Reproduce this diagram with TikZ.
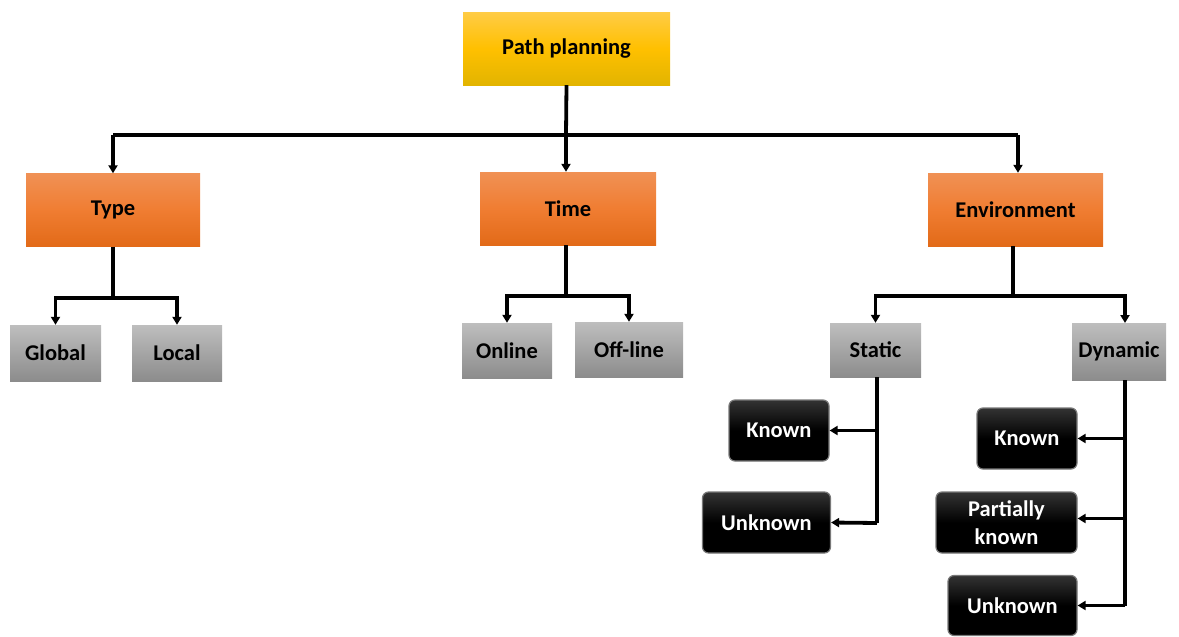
\documentclass[tikz,border=0pt]{standalone}
\usepackage{fontspec}
\setmainfont{Carlito}
\usetikzlibrary{arrows.meta}
\definecolor{ylt}{RGB}{255,204,70}
\definecolor{ymd}{RGB}{255,192,0}
\definecolor{ybt}{RGB}{226,180,0}
\definecolor{olt}{RGB}{240,145,85}
\definecolor{omd}{RGB}{240,125,50}
\definecolor{obt}{RGB}{226,106,24}
\definecolor{glt}{RGB}{190,190,190}
\definecolor{gbt}{RGB}{140,140,140}
\definecolor{bdg}{RGB}{120,120,120}
\tikzset{
  txt/.style={font=\fontsize{22.5}{28}\selectfont\bfseries, align=center, inner sep=0pt},
  rootbox/.style={txt, minimum width=207pt, minimum height=73pt, top color=ylt, bottom color=ybt, middle color=ymd, text=black},
  orbox/.style={txt, minimum height=73pt, top color=olt, bottom color=obt, middle color=omd, text=black},
  grbox/.style={txt, minimum height=55pt, top color=glt, bottom color=gbt, text=black},
  blbox/.style={txt, minimum height=61pt, rounded corners=6pt, top color=black!80, bottom color=black, middle color=black, draw=bdg, line width=1.2pt, text=white},
  ln/.style={line width=3.8pt, draw=black},
  arr/.style={ln, -{Triangle[length=8pt,width=9pt]}},
}
\begin{document}
\begin{tikzpicture}[x=1pt,y=-1pt]
\useasboundingbox (0,0) rectangle (1179,637);
% boxes
\node[rootbox] (pp) at (566.5,48.5) {Path planning};
\node[orbox, minimum width=174pt] (type) at (113,210) {Type};
\node[orbox, minimum width=176pt] (time) at (568,208.5) {Time};
\node[orbox, minimum width=175pt] (env) at (1015.5,209.5) {Environment};
\node[grbox, minimum width=91pt, minimum height=56pt] (global) at (55.5,353) {Global};
\node[grbox, minimum width=90pt, minimum height=56pt] (local) at (177,353) {Local};
\node[grbox, minimum width=90pt] (online) at (507,350.5) {Online};
\node[grbox, minimum width=108pt] (offline) at (629,349.5) {Off-line};
\node[grbox, minimum width=91pt, minimum height=54pt] (static) at (875.5,350) {Static};
\node[grbox, minimum width=94pt, minimum height=57pt] (dyn) at (1119,351.5) {Dynamic};
\node[blbox, minimum width=100pt] (kn1) at (779,430.5) {Known};
\node[blbox, minimum width=128pt] (un1) at (766.5,522.5) {Unknown};
\node[blbox, minimum width=100pt] (kn2) at (1027,438.5) {Known};
\node[blbox, minimum width=141pt] (pk) at (1006.5,522.5) {Partially\\known};
\node[blbox, minimum width=129pt, minimum height=60pt] (un2) at (1012.5,605.5) {Unknown};
% bus coordinates
\coordinate (b0) at (566,135);
\coordinate (b0l) at (113,135);
\coordinate (b0r) at (1018,135);
\coordinate (bt) at (113,298);
\coordinate (bti) at (566,296);
\coordinate (be) at (1013,296);
\coordinate (sv) at (877,523);
\coordinate (s1) at (877,430.5);
\coordinate (dv) at (1125,605.5);
\coordinate (d1) at (1125,438.5);
\coordinate (d2) at (1125,518.5);
\coordinate (dtop) at (1125,323);
% root connectors
\draw[ln] (pp.south) -- (b0);
\draw[ln] (b0l) -- (b0r);
\draw[arr] (b0l) -- (type.north);
\draw[arr] (b0) -- (b0 |- time.north);
\draw[arr] (b0r) -- (b0r |- env.north);
% type
\draw[ln] (type.south) -- (bt);
\draw[arr] (bt) -| (global.north);
\draw[arr] (bt) -| (local.north);
% time
\draw[ln] (bti |- time.south) -- (bti);
\draw[arr] (bti) -| (online.north);
\draw[arr] (bti) -| (offline.north);
% environment
\draw[ln] (be |- env.south) -- (be);
\draw[arr] (be) -| (static.north);
\draw[arr] (be) -| (dtop);
% static
\draw[ln] (sv |- static.south) -- (sv);
\draw[arr] (s1) -- (kn1.east);
\draw[arr] (sv) -- (un1.east);
% dynamic
\draw[ln] (dv |- dyn.south) -- (dv);
\draw[arr] (d1) -- (kn2.east);
\draw[arr] (d2) -- (d2 -| pk.east);
\draw[arr] (dv) -- (un2.east);
\end{tikzpicture}
\end{document}
